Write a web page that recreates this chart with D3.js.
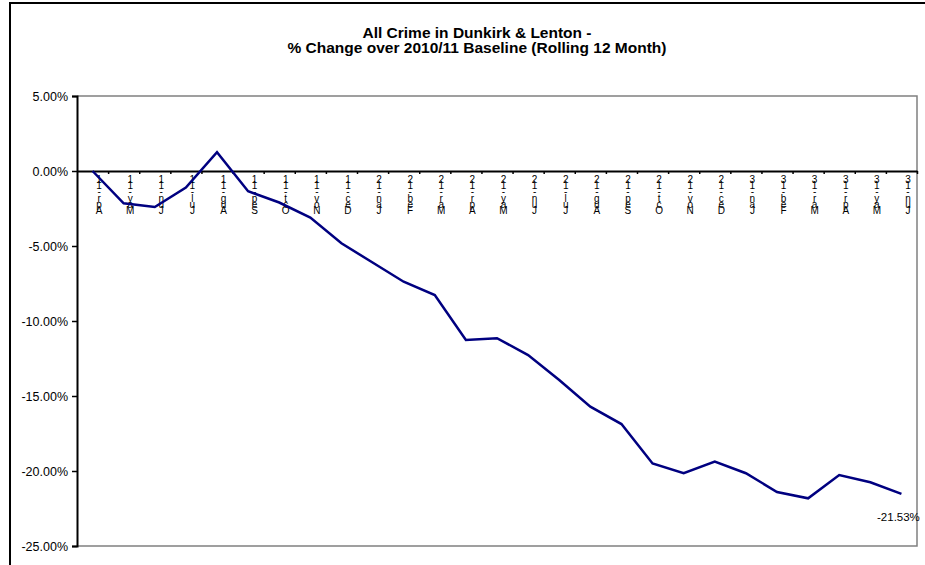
<!DOCTYPE html>
<meta charset="utf-8">
<style>
body { margin: 0; background: #fff; }
text { font-family: Arial, "Liberation Sans", sans-serif; fill: #000; }
.title { font-weight: bold; font-size: 15.5px; }
.yaxis text { font-size: 12.5px; }
.xlab { font-size: 10px; }
</style>
<svg width="925" height="565"></svg>
<script src="https://d3js.org/d3.v7.min.js"></script>
<script>

var months = ["Apr-11","May-11","Jun-11","Jul-11","Aug-11","Sep-11","Oct-11","Nov-11","Dec-11",
              "Jan-12","Feb-12","Mar-12","Apr-12","May-12","Jun-12","Jul-12","Aug-12","Sep-12",
              "Oct-12","Nov-12","Dec-12","Jan-13","Feb-13","Mar-13","Apr-13","May-13","Jun-13"];

var pctChange = [0.00, -2.15, -2.40, -1.10, 1.25, -1.35, -2.10, -3.10, -4.82,
                 -6.10, -7.38, -8.27, -11.27, -11.15, -12.27, -13.93, -15.71, -16.87,
                 -19.50, -20.15, -19.38, -20.15, -21.40, -21.82, -20.27, -20.75, -21.53];

var yTicks = [5, 0, -5, -10, -15, -20, -25];

var titleLines = ["All Crime in Dunkirk & Lenton -",
                  "% Change over 2010/11 Baseline (Rolling 12 Month)"];

var svg = d3.select("svg");

var plot = {left: 77, right: 917, top: 96, bottom: 546};

// outer chart frame (runs off the right and bottom)
svg.append("rect")
    .attr("x", 10).attr("y", 3)
    .attr("width", 940).attr("height", 600)
    .attr("fill", "none").attr("stroke", "#000").attr("stroke-width", 2);

svg.selectAll(".title").data(titleLines).enter().append("text")
    .attr("class", "title")
    .attr("x", 477)
    .attr("y", function(d, i) { return 38 + i * 14.5; })
    .attr("text-anchor", "middle")
    .text(function(d) { return d; });

var x = d3.scaleLinear().domain([0, months.length]).range([plot.left, plot.right]);
var y = d3.scaleLinear().domain([-25, 5]).range([plot.bottom, plot.top]);

// plot area border (grey top/right/bottom)
svg.append("path")
    .attr("d", "M" + plot.left + "," + plot.top + "H" + plot.right + "V" + plot.bottom + "H" + plot.left)
    .attr("fill", "none").attr("stroke", "#808080").attr("stroke-width", 1.5);

// y axis
var yAxis = svg.append("g")
    .attr("class", "yaxis")
    .attr("transform", "translate(" + plot.left + ",0)")
    .call(d3.axisLeft(y).tickValues(yTicks).tickSize(5).tickPadding(4)
      .tickFormat(function(d) { return d.toFixed(2) + "%"; }));
yAxis.select(".domain").attr("stroke-width", 2);
yAxis.selectAll("line").attr("stroke-width", 1.5);

// x axis at zero, ticks between categories
var xAxis = svg.append("g")
    .attr("transform", "translate(0," + y(0) + ")")
    .call(d3.axisBottom(x).tickValues(d3.range(1, months.length + 1)).tickSize(3).tickSizeOuter(0)
      .tickFormat(""));
xAxis.select(".domain").attr("stroke-width", 2);
xAxis.selectAll("line").attr("stroke-width", 1.5);

// stacked, reversed month labels
var lab = svg.append("g").selectAll("text").data(months).enter().append("text")
    .attr("class", "xlab")
    .attr("text-anchor", "middle")
    .attr("transform", function(d, i) { return "translate(" + (x(i + 0.5) + 6.5) + ",183)"; });
lab.each(function(d) {
  var chars = d.split("").reverse();
  d3.select(this).selectAll("tspan").data(chars).enter().append("tspan")
      .attr("x", 0)
      .attr("y", function(c, j) { return j * 6.2; })
      .text(function(c) { return c; });
});

// data line
var line = d3.line()
    .x(function(d, i) { return x(i + 0.5); })
    .y(function(d) { return y(d); });

svg.append("path")
    .datum(pctChange)
    .attr("d", line)
    .attr("fill", "none")
    .attr("stroke", "#000080")
    .attr("stroke-width", 2.5);

var last = pctChange.length - 1;
svg.append("text")
    .attr("x", x(last + 0.5) - 3)
    .attr("y", y(pctChange[last]) + 27)
    .attr("text-anchor", "middle")
    .style("font-size", "11.5px")
    .text(pctChange[last].toFixed(2) + "%");

</script>
